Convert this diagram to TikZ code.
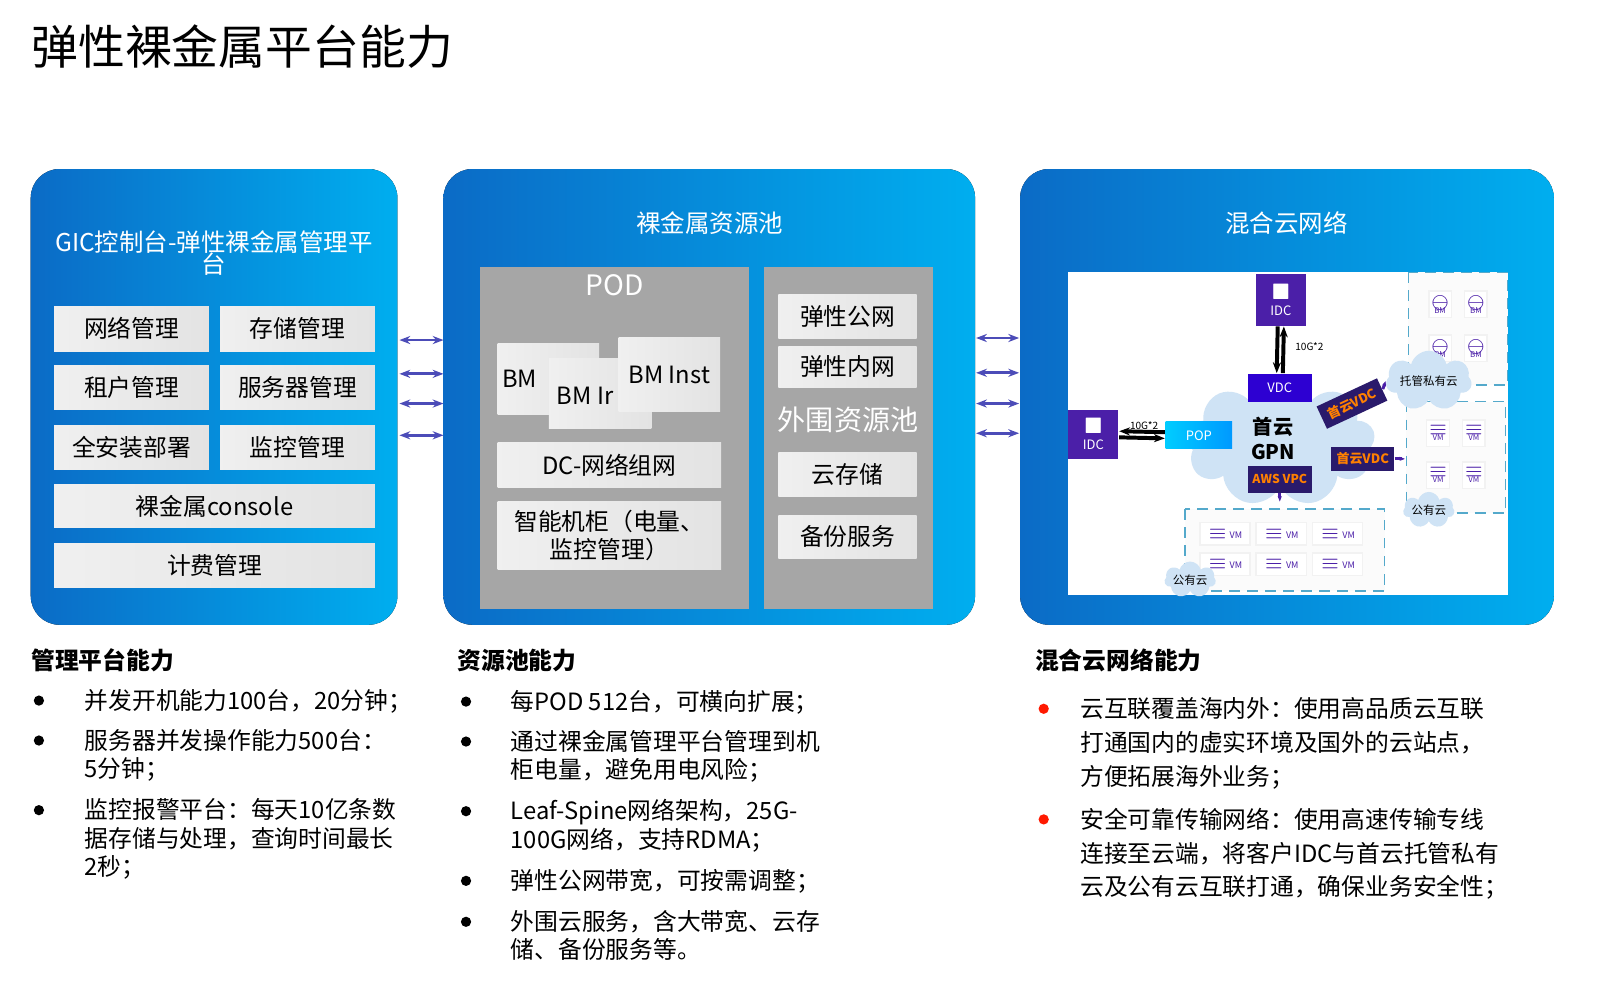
\documentclass[tikz,border=0pt]{standalone}
\usepackage{amssymb}
\usepackage{fontspec}
\setmainfont{Noto Sans CJK SC}
\usetikzlibrary{shapes.symbols,arrows.meta}
\definecolor{bluedk}{HTML}{0B6BC6}
\definecolor{bluelt}{HTML}{00AEEF}
\definecolor{podgray}{HTML}{A6A6A6}
\definecolor{idcpurple}{HTML}{4B1FA8}
\definecolor{navy}{HTML}{2A1A6B}
\definecolor{cloudblue}{HTML}{CFE3F5}
\newcommand{\fs}[1]{\fontsize{#1}{\dimexpr#1pt*12/10\relax}\selectfont}
\tikzset{
  panel/.style={rounded corners=8pt, left color=bluedk, right color=bluelt, draw=none},
  gbox/.style={left color=gray!12, right color=gray!22, draw=none, inner sep=0pt, font=\fs{6.6}, align=center},
  dblarrow/.style={{Stealth[length=3pt]}-{Stealth[length=3pt]}, thick, blue!60!black!70},
  ttl/.style={text=white, font=\fs{6.8}, align=center},
  idc/.style={fill=idcpurple, text=white, font=\fs{3.6}, inner sep=0pt, align=center},
  dashreg/.style={draw=cyan!60!gray, densely dashed, fill=gray!3},
  smallcell/.style={fill=white, draw=gray!10, inner sep=0pt, font=\fs{2.2}, text=idcpurple, align=center},
  smallcloud/.style={fill=cloudblue, cloud, cloud puffs=7, aspect=2.2, minimum height=0.22cm, inner sep=0pt, font=\fs{3.2}},
  bodytxt/.style={anchor=north west, font=\fs{6.6}, align=left, inner sep=0pt},
}
\begin{document}
\begin{tikzpicture}[x=0.01cm, y=-0.01cm]
    \useasboundingbox[fill=white] (0,0) rectangle (1568,957);
    % title
    \node[anchor=west, inner sep=0pt, font=\fs{13}] (title) at (30,45) {弹性裸金属平台能力};

    % panels
    \fill[panel] (30,165) rectangle (388,610);
    \fill[panel] (433,165) rectangle (952,610);
    \fill[panel] (996,165) rectangle (1517,610);

    % panel 1
    \node[ttl] (p1title) at (209,247) {GIC控制台-弹性裸金属管理平\\[-2pt]台};
    \node[gbox, minimum width=1.51cm, minimum height=0.44cm] (net) at (128.5,321) {网络管理};
    \node[gbox, minimum width=1.51cm, minimum height=0.44cm] (sto) at (290.5,321) {存储管理};
    \node[gbox, minimum width=1.51cm, minimum height=0.43cm] (ten) at (128.5,378.5) {租户管理};
    \node[gbox, minimum width=1.51cm, minimum height=0.43cm] (srv) at (290.5,378.5) {服务器管理};
    \node[gbox, minimum width=1.51cm, minimum height=0.43cm] (ins) at (128.5,436.5) {全安装部署};
    \node[gbox, minimum width=1.51cm, minimum height=0.43cm] (mon) at (290.5,436.5) {监控管理};
    \node[gbox, minimum width=3.13cm, minimum height=0.42cm] (con) at (209.5,494) {裸金属console};
    \node[gbox, minimum width=3.13cm, minimum height=0.43cm] (bill) at (209.5,552.5) {计费管理};

    % arrows between panels
    \foreach \y in {332,365,394,425} {
      \coordinate (la\y) at (390,\y);
      \coordinate (lb\y) at (433,\y);
      \draw[dblarrow] (la\y) -- (lb\y);
    }
    \foreach \y in {330,364,394,423} {
      \coordinate (ra\y) at (953,\y);
      \coordinate (rb\y) at (995,\y);
      \draw[dblarrow] (ra\y) -- (rb\y);
    }

    % panel 2
    \node[ttl] (p2title) at (693,218) {裸金属资源池};
    \fill[podgray] (469,261) rectangle (731,595);
    \fill[podgray] (746,261) rectangle (911,595);
    \node[text=white, font=\fs{7.8}] (pod) at (600,278) {POD};
    \node[gbox, minimum width=0.99cm, minimum height=0.70cm, text width=0.9cm, align=left] (bm1) at (535.5,370) {BM};
    \node[gbox, minimum width=1.00cm, minimum height=0.68cm] (bm2) at (586,384) {};
    \node[anchor=west, inner sep=0pt, font=\fs{6.6}] (bm2t) at (543,386) {BM Ir};
    \node[gbox, minimum width=0.99cm, minimum height=0.72cm] (bm3) at (653.5,366) {BM Inst};
    \node[gbox, minimum width=2.18cm, minimum height=0.44cm] (dc) at (595,454) {DC-网络组网};
    \node[gbox, minimum width=2.18cm, minimum height=0.66cm] (rack) at (595,523) {智能机柜（电量、\\监控管理）};
    \node[gbox, minimum width=1.35cm, minimum height=0.42cm] (pub) at (827.5,309) {弹性公网};
    \node[gbox, minimum width=1.35cm, minimum height=0.40cm] (pri) at (827.5,358) {弹性内网};
    \node[text=white, font=\fs{7.8}] (ext) at (828,410) {外围资源池};
    \node[gbox, minimum width=1.35cm, minimum height=0.43cm] (cs) at (827.5,463.5) {云存储};
    \node[gbox, minimum width=1.35cm, minimum height=0.42cm] (bak) at (827.5,524) {备份服务};

    % panel 3
    \node[ttl] (p3title) at (1256,218) {混合云网络};
    \fill[white] (1043,266) rectangle (1472,581);
    \draw[dashreg] (1375,266) rectangle (1472,376);
    \draw[dashreg] (1373,392) rectangle (1470,501);
    \draw[dashreg] (1157,497) rectangle (1352,577);
    % cells
    \foreach \x in {1406,1441} \foreach \y in {297,340} {
      \node[smallcell, minimum width=0.22cm, minimum height=0.26cm] at (\x,\y) {\fs{3.5}$\ominus$\\[-1pt]BM};
    }
    \foreach \x in {1404,1439} \foreach \y in {423,464} {
      \node[smallcell, minimum width=0.22cm, minimum height=0.26cm] at (\x,\y) {\fs{3.5}$\equiv$\\[-1pt]VM};
    }
    \foreach \x in {1196,1251,1306} \foreach \y in {521,551} {
      \node[smallcell, minimum width=0.49cm, minimum height=0.22cm] at (\x,\y) {\fs{3}$\equiv$ \fs{2.5}VM};
    }
    % clouds
    \node[cloud, cloud puffs=9, aspect=1.6, fill=cloudblue, draw=none, minimum width=1.85cm, minimum height=1.25cm] (gpncloud) at (1250,432) {};
    \node[smallcloud, minimum width=0.6cm] (cl1) at (1395,372) {托管私有云};
    \node[smallcloud, minimum width=0.5cm] (cl2) at (1395,498) {公有云};
    \node[smallcloud, minimum width=0.45cm] (cl3) at (1162,566) {公有云};
    \node[text=black, font=\bfseries\fs{5.6}, align=center] (gpn) at (1243,428) {首云\\GPN};
    \node[fill=blue!65!violet, text=white, font=\fs{3.6}, minimum width=0.63cm, minimum height=0.27cm, inner sep=0pt] (vdc) at (1249.5,378.5) {VDC};
    \node[fill=navy, text=orange, font=\bfseries\fs{3.4}, minimum width=0.63cm, minimum height=0.26cm, inner sep=0pt] (aws) at (1249.5,468) {AWS VPC};
    \node[left color=cyan!80!blue, right color=blue!40!cyan, text=white, font=\fs{3.6}, minimum width=0.65cm, minimum height=0.26cm, inner sep=0pt] (pop) at (1170.5,425) {POP};
    \node[idc, minimum width=0.49cm, minimum height=0.50cm] (idct) at (1250.5,293) {\fs{5}$\blacksquare$\\IDC};
    \node[idc, minimum width=0.49cm, minimum height=0.48cm] (idcl) at (1067.5,424) {\fs{5}$\blacksquare$\\IDC};
    \node[fill=navy, text=orange, font=\bfseries\fs{3.6}, rotate=25, minimum width=0.65cm, minimum height=0.24cm, inner sep=0pt] (vdc1) at (1320,394) {首云VDC};
    \node[fill=navy, text=orange, font=\bfseries\fs{3.6}, minimum width=0.61cm, minimum height=0.24cm, inner sep=0pt] (vdc2) at (1330.5,448) {首云VDC};
    \draw[-{Stealth[length=3pt]}, line width=1.1pt] ([xshift=-0.03cm]idct.south) -- ([xshift=-0.03cm]vdc.north);
    \draw[{Stealth[length=3pt]}-, line width=1.1pt] ([xshift=0.03cm]idct.south) -- ([xshift=0.03cm]vdc.north);
    \node[font=\fs{2.8}, anchor=west, inner sep=0pt] (bw1) at (1264,338) {10G*2};
    \draw[-{Stealth[length=3pt]}, line width=1.1pt] ([yshift=-0.03cm]idcl.east) -- ([yshift=-0.03cm]pop.west);
    \draw[{Stealth[length=3pt]}-, line width=1.1pt] ([yshift=0.03cm]idcl.east) -- ([yshift=0.03cm]pop.west);
    \node[font=\fs{2.8}, inner sep=0pt] (bw2) at (1117,415) {10G*2};
    \draw[-{Stealth[length=1.5pt]}, idcpurple, thick] (vdc1.east) -- (cl1.west);
    \draw[-{Stealth[length=1.5pt]}, idcpurple, thick] (vdc2.east) -- ++(10,0);
    \draw[-{Stealth[length=1.5pt]}, idcpurple, thick] (aws.south) -- ++(0,8);

    % bottom text
    \node[anchor=west, inner sep=0pt, font=\bfseries\fs{6.6}] (h1) at (30,645) {管理平台能力};
    \node[anchor=west, inner sep=0pt, font=\bfseries\fs{6.6}] (h2) at (446,645) {资源池能力};
    \node[anchor=west, inner sep=0pt, font=\bfseries\fs{6.6}] (h3) at (1010,645) {混合云网络能力};
    \foreach \y in {684,723,791} \node[circle, fill=black, inner sep=0pt, minimum size=0.1cm] at (38,\y) {};
    \foreach \y in {685,724,792,860,900} \node[circle, fill=black, inner sep=0pt, minimum size=0.1cm] at (455,\y) {};
    \foreach \y in {692,800} \node[circle, fill=red!80!orange, inner sep=0pt, minimum size=0.1cm] at (1019,\y) {};
    \node[bodytxt] (t11) at (82,672) {并发开机能力100台，20分钟；};
    \node[bodytxt] (t12) at (82,711) {服务器并发操作能力500台：\\5分钟；};
    \node[bodytxt] (t13) at (82,779) {监控报警平台：每天10亿条数\\据存储与处理，查询时间最长\\2秒；};
    \node[bodytxt] (t21) at (498,673) {每POD 512台，可横向扩展；};
    \node[bodytxt] (t22) at (498,712) {通过裸金属管理平台管理到机\\柜电量，避免用电风险；};
    \node[bodytxt] (t23) at (498,780) {Leaf-Spine网络架构，25G-\\100G网络，支持RDMA；};
    \node[bodytxt] (t24) at (498,848) {弹性公网带宽，可按需调整；};
    \node[bodytxt] (t25) at (498,888) {外围云服务，含大带宽、云存\\储、备份服务等。};
    \node[bodytxt] (t31) at (1054,680) {云互联覆盖海内外：使用高品质云互联\\[1.5pt]打通国内的虚实环境及国外的云站点，\\[1.5pt]方便拓展海外业务；};
    \node[bodytxt] (t32) at (1054,788) {安全可靠传输网络：使用高速传输专线\\[1.5pt]连接至云端，将客户IDC与首云托管私有\\[1.5pt]云及公有云互联打通，确保业务安全性；};
\end{tikzpicture}
\end{document}
